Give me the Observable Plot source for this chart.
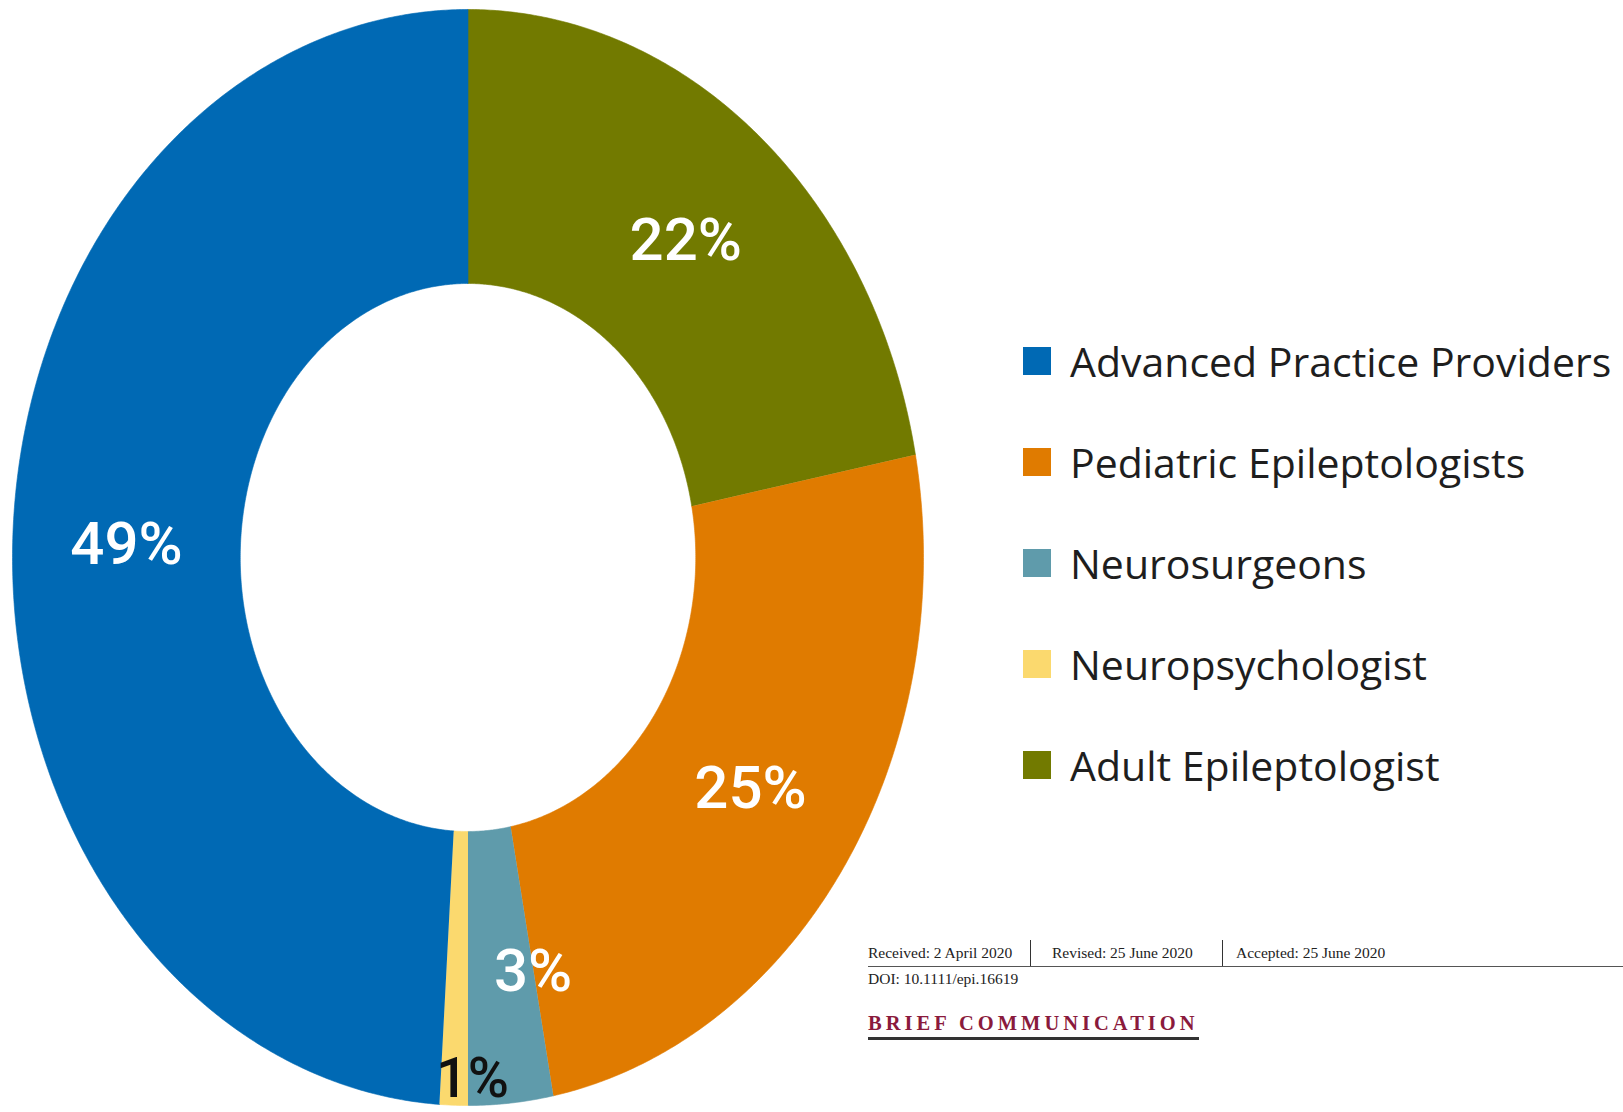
<!DOCTYPE html>
<html>
<head>
<meta charset="utf-8">
<script src="https://cdn.jsdelivr.net/npm/d3@7"></script>
<script src="https://cdn.jsdelivr.net/npm/@observablehq/plot@0.6"></script>
<style>
  html, body { margin: 0; padding: 0; background: #fff; }
  #wrap { position: relative; width: 1623px; height: 1112px; overflow: hidden; background: #fff; }
  #chart { position: absolute; left: 0; top: 0; }
  #legend { position: absolute; left: 1023px; top: 310px; font-family: "Open Sans", sans-serif; font-size: 41px; color: #1e1e1e; }
  #legend .row { display: flex; align-items: center; height: 101px; white-space: nowrap; }
  #legend .sw { width: 28px; height: 28px; margin-right: 19px; flex: none; }
  #header { position: absolute; left: 868px; top: 940px; width: 755px; font-family: "Liberation Serif", "DejaVu Serif", serif; color: #222; }
  #dates { font-size: 15.5px; display: flex; border-bottom: 1.5px solid #555; height: 26px; align-items: center; }
  #dates span { line-height: 26px; white-space: nowrap; }
  #dates .d1 { width: 162px; }
  #dates .d2 { width: 170px; padding-left: 21px; border-left: 1.3px solid #333; }
  #dates .d3 { padding-left: 13px; border-left: 1.3px solid #333; }
  #doi { font-size: 15.5px; margin-top: 3px; }
  #brief { margin-top: 24px; display: inline-block; font-size: 20.5px; font-weight: bold; letter-spacing: 4px; color: #8a1a3c; padding-bottom: 2px; border-bottom: 3px solid #333; }
</style>
</head>
<body>
<div id="wrap">
  <div id="chart"></div>
  <div id="legend"></div>
  <div id="header">
    <div id="dates"><span class="d1">Received: 2 April 2020</span><span class="d2">Revised: 25 June 2020</span><span class="d3">Accepted: 25 June 2020</span></div>
    <div id="doi">DOI: 10.1111/epi.16619</div>
    <div id="brief">BRIEF COMMUNICATION</div>
  </div>
</div>
<script>
// ---- data ----
const categories = ["Advanced Practice Providers", "Pediatric Epileptologists", "Neurosurgeons", "Neuropsychologist", "Adult Epileptologist"];
const shares = [49, 25, 3, 1, 22];
const colors = ["#0069b4", "#e07b00", "#5f9bab", "#fbd96e", "#727a00"];
// order of slices clockwise from 12 o'clock
const sliceOrder = ["Adult Epileptologist", "Pediatric Epileptologists", "Neurosurgeons", "Neuropsychologist", "Advanced Practice Providers"];
const labelTexts = ["49%", "25%", "3%", "1%", "22%"];

// ---- styling config (label placement and ring size) ----
const innerRadius = 0.5;
const labelRadius = 0.75;
const labelNudge = { "Neurosurgeons": { dAngle: -5.3, r: 0.77 }, "Neuropsychologist": { dAngle: -2.4, r: 0.952 } };
const darkLabels = new Set(["Neuropsychologist"]);

const shareOf = new Map(categories.map((c, i) => [c, shares[i]]));
const labelOf = new Map(categories.map((c, i) => [c, labelTexts[i]]));
const total = d3.sum(shares);

// build slice geometry from the shares
const arcs = [];
const labels = [];
let acc = 0;
for (const cat of sliceOrder) {
  const a0 = acc / total * 360;
  acc += shareOf.get(cat);
  const a1 = acc / total * 360;
  const n = Math.max(2, Math.ceil((a1 - a0) / 0.4));
  const rad = a => a * Math.PI / 180;
  for (let k = 0; k <= n; k++) {
    const a = a0 + (a1 - a0) * k / n;
    arcs.push({ cat, x: Math.sin(rad(a)), y: Math.cos(rad(a)) });
  }
  for (let k = n; k >= 0; k--) {
    const a = a0 + (a1 - a0) * k / n;
    arcs.push({ cat, x: innerRadius * Math.sin(rad(a)), y: innerRadius * Math.cos(rad(a)) });
  }
  const nudge = labelNudge[cat] || { dAngle: 0, r: labelRadius };
  const am = (a0 + a1) / 2 + nudge.dAngle;
  labels.push({ cat, text: labelOf.get(cat), x: nudge.r * Math.sin(rad(am)), y: nudge.r * Math.cos(rad(am)) });
}

const plot = Plot.plot({
  width: 940,
  height: 1112,
  marginLeft: 12,
  marginRight: 17,
  marginTop: 9,
  marginBottom: 7,
  x: { domain: [-1, 1], axis: null },
  y: { domain: [-1, 1], axis: null },
  color: { domain: categories, range: colors },
  style: { background: "#fff" },
  marks: [
    Plot.line(arcs, { x: "x", y: "y", z: "cat", fill: "cat", stroke: "cat", strokeWidth: 0.6, curve: "linear" }),
    Plot.text(labels.filter(d => !darkLabels.has(d.cat)), { x: "x", y: "y", text: "text", fill: "#fff", fontSize: 60, fontWeight: 500, fontFamily: "Roboto, sans-serif" }),
    Plot.text(labels.filter(d => darkLabels.has(d.cat)), { x: "x", y: "y", text: "text", fill: "#111", fontSize: 56, fontWeight: 500, fontFamily: "Roboto, sans-serif" })
  ]
});
document.getElementById("chart").appendChild(plot);

// legend
const legend = document.getElementById("legend");
categories.forEach((c, i) => {
  const row = document.createElement("div");
  row.className = "row";
  const sw = document.createElement("div");
  sw.className = "sw";
  sw.style.background = colors[i];
  const t = document.createElement("span");
  t.textContent = c;
  row.appendChild(sw);
  row.appendChild(t);
  legend.appendChild(row);
});
</script>
</body>
</html>
